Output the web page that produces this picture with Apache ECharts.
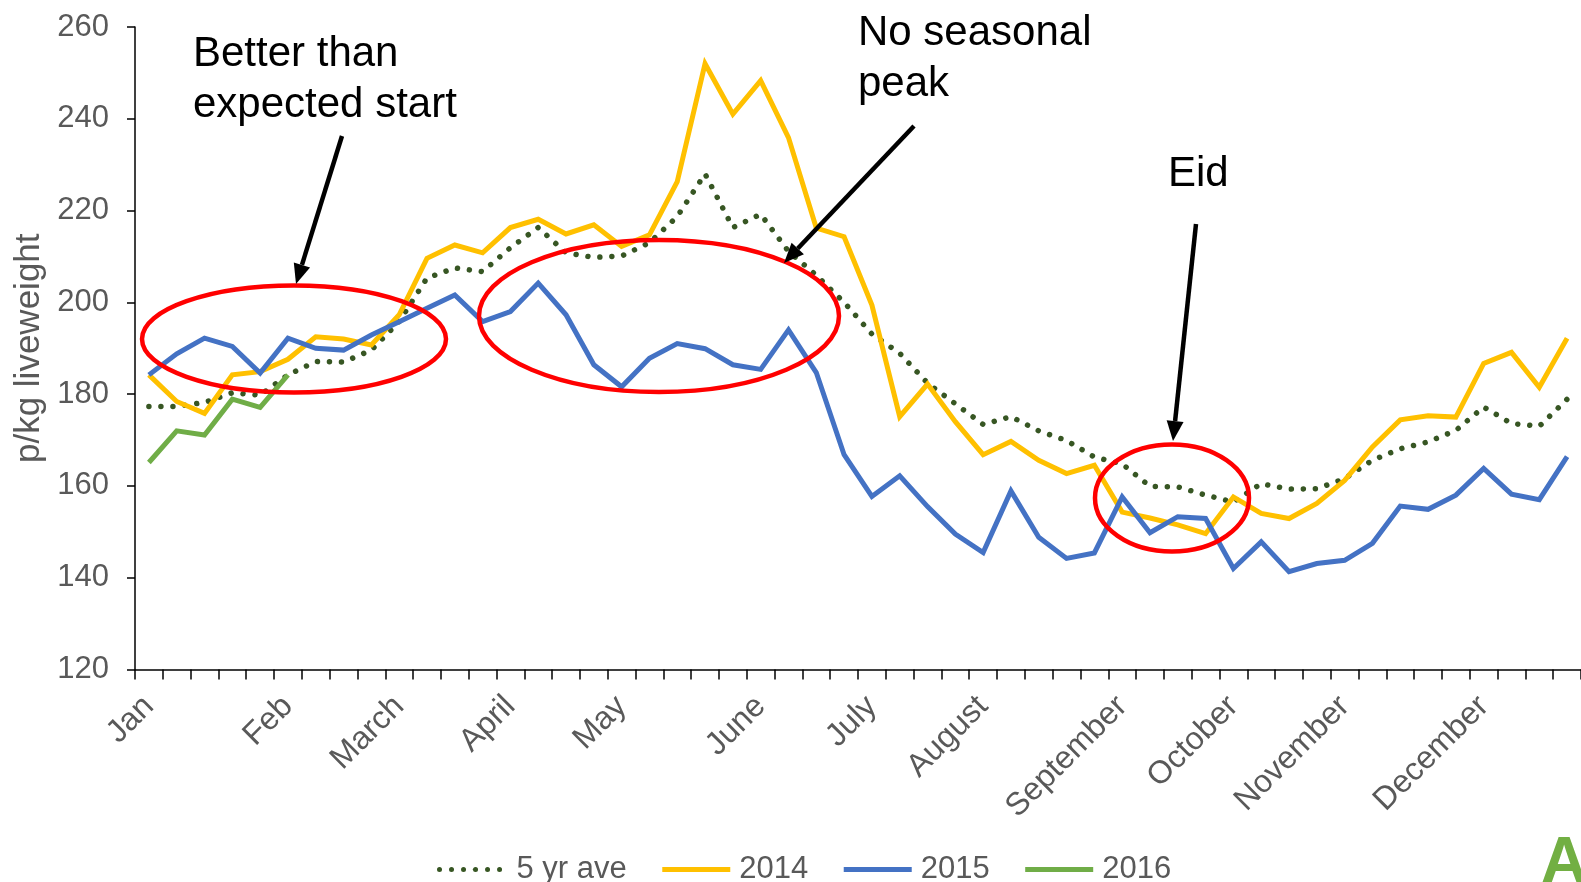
<!DOCTYPE html>
<html>
<head>
<meta charset="utf-8">
<title>Weekly prices p/kg liveweight</title>
<script src="https://cdn.jsdelivr.net/npm/echarts@6/dist/echarts.min.js"></script>
<style>
  html, body { margin: 0; padding: 0; background: #fff; }
  #chart { width: 1581px; height: 882px; }
</style>
</head>
<body>
<div id="chart"></div>
<script>
// 52 weeks, month name on the week the month starts
var weeks = ['Jan', '', '', '', '', 'Feb', '', '', '', 'March', '', '', '', 'April', '', '', '',
  'May', '', '', '', '', 'June', '', '', '', 'July', '', '', '', 'August', '', '', '', '',
  'September', '', '', '', 'October', '', '', '', 'November', '', '', '', '', 'December', '', '', ''];

var seriesNames = ['5 yr ave', '2014', '2015', '2016'];

var ave5 = [177.3, 177.3, 178.2, 180.3, 179.8, 184.2, 187.1, 187.0, 189.6, 195.8, 205.3, 207.5, 206.7,
  211.9, 216.3, 210.8, 209.8, 210.1, 213.0, 218.7, 228.0, 216.3, 219.2, 211.1, 205.9, 200.0, 193.1,
  188.9, 182.4, 177.9, 173.4, 175.1, 172.0, 169.9, 166.3, 164.8, 159.9, 159.8, 158.0, 156.5, 160.5,
  159.3, 159.4, 161.6, 165.6, 168.1, 169.6, 172.1, 177.2, 173.6, 173.0, 178.9];

var y2014 = [184.2, 178.4, 175.8, 184.2, 184.9, 187.6, 192.5, 192.0, 190.7, 197.3, 209.6, 212.5, 210.8,
  216.3, 218.1, 214.9, 216.9, 212.2, 214.7, 226.3, 252.0, 241.0, 248.3, 235.9, 216.2, 214.3, 199.4,
  175.1, 182.2, 174.0, 166.8, 169.7, 165.6, 162.7, 164.5, 154.3, 153.0, 151.5, 149.6, 157.6, 154.0,
  152.9, 156.2, 161.2, 168.5, 174.4, 175.3, 175.0, 186.7, 189.1, 181.5, 192.2];

var y2015 = [184.2, 188.8, 192.2, 190.4, 184.6, 192.2, 190.0, 189.6, 192.9, 195.8, 198.7, 201.6, 195.8,
  198.0, 204.2, 197.3, 186.4, 181.6, 187.8, 191.0, 189.9, 186.4, 185.4, 194.0, 184.7, 166.8, 157.7,
  162.2, 155.5, 149.5, 145.5, 158.9, 148.8, 144.2, 145.4, 157.6, 149.8, 153.3, 152.9, 142.0, 147.8,
  141.3, 143.1, 143.8, 147.5, 155.6, 154.9, 158.0, 163.8, 158.2, 157.0, 166.4];

var y2016 = [165.1, 172.0, 171.1, 178.9, 177.1, 184.2];

var yTicks = { min: 120, max: 260, step: 20 };

var FONT = '"Liberation Sans", Arial, sans-serif';
var GREY = '#595959';

var chart = echarts.init(document.getElementById('chart'));

// arrow = shaft line + triangular head
function arrow(x1, y1, x2, y2) {
  var a = Math.atan2(y2 - y1, x2 - x1);
  var len = 20, half = 8.5;
  var bx = x2 - Math.cos(a) * len, by = y2 - Math.sin(a) * len;
  var px = -Math.sin(a) * half, py = Math.cos(a) * half;
  return [
    { type: 'line', z: 100, shape: { x1: x1, y1: y1, x2: bx, y2: by },
      style: { stroke: '#000', lineWidth: 4.5 } },
    { type: 'polygon', z: 100, shape: { points: [[x2, y2], [bx + px, by + py], [bx - px, by - py]] },
      style: { fill: '#000' } }
  ];
}

function ring(cx, cy, rx, ry) {
  return { type: 'ellipse', z: 100, shape: { cx: cx, cy: cy, rx: rx, ry: ry },
    style: { fill: 'none', stroke: '#ff0000', lineWidth: 4.5 } };
}

function note(x, y, text) {
  return { type: 'text', z: 100, x: x, y: y,
    style: { text: text, font: '42px ' + FONT, fill: '#000', lineHeight: 51, verticalAlign: 'top' } };
}

var graphics = [
  ring(294, 339, 152, 53.5),
  ring(659, 316, 180, 76),
  ring(1172, 498, 77, 53.5),
  note(193, 29, 'Better than\nexpected start'),
  note(858, 8, 'No seasonal\npeak'),
  note(1168, 149, 'Eid'),
  { type: 'text', z: 100, x: 1541, y: 832,
    style: { text: 'A', font: 'bold 64px ' + FONT, fill: '#72af43' } }
].concat(arrow(342, 136, 296, 284), arrow(914, 126, 784, 263), arrow(1196, 224, 1173, 441));

var option = {
  animation: false,
  textStyle: { fontFamily: FONT },
  grid: { left: 135, right: -8, top: 27, bottom: 212.5, containLabel: false },
  legend: {
    data: seriesNames,
    left: 437,
    top: 854,
    padding: 0,
    itemWidth: 68,
    itemHeight: 2,
    itemGap: 33,
    lineStyle: { width: 5 },
    textStyle: { fontSize: 31, color: GREY, fontFamily: FONT, lineHeight: 31, padding: [0, 0, 0, 4] }
  },
  xAxis: {
    type: 'category',
    data: weeks,
    boundaryGap: true,
    axisLine: { lineStyle: { color: '#000', width: 1.5 } },
    axisTick: { show: true, interval: 0, length: 10, lineStyle: { color: '#000', width: 1.5 } },
    axisLabel: { interval: 0, rotate: 45, margin: 32, fontSize: 32, color: GREY, fontFamily: FONT },
    splitLine: { show: false }
  },
  yAxis: {
    type: 'value',
    min: yTicks.min,
    max: yTicks.max,
    interval: yTicks.step,
    name: 'p/kg liveweight',
    nameLocation: 'middle',
    nameRotate: 90,
    nameGap: 88,
    nameTextStyle: { fontSize: 35, color: GREY, fontFamily: FONT },
    axisLine: { show: true, lineStyle: { color: '#000', width: 1.5 } },
    axisTick: { show: true, length: 8, lineStyle: { color: '#000', width: 1.5 } },
    axisLabel: { margin: 26, fontSize: 31, color: GREY, fontFamily: FONT },
    splitLine: { show: false }
  },
  series: [
    { name: seriesNames[0], type: 'line', data: ave5, symbol: 'none',
      lineStyle: { color: '#375623', width: 5.5, type: [0.01, 12], cap: 'round' },
      itemStyle: { color: '#375623' } },
    { name: seriesNames[1], type: 'line', data: y2014, symbol: 'none',
      lineStyle: { color: '#ffc000', width: 5, join: 'miter' }, itemStyle: { color: '#ffc000' } },
    { name: seriesNames[2], type: 'line', data: y2015, symbol: 'none',
      lineStyle: { color: '#4472c4', width: 5, join: 'miter' }, itemStyle: { color: '#4472c4' } },
    { name: seriesNames[3], type: 'line', data: y2016, symbol: 'none',
      lineStyle: { color: '#70ad47', width: 5, join: 'miter' }, itemStyle: { color: '#70ad47' } }
  ],
  graphic: graphics
};

chart.setOption(option);
</script>
</body>
</html>
